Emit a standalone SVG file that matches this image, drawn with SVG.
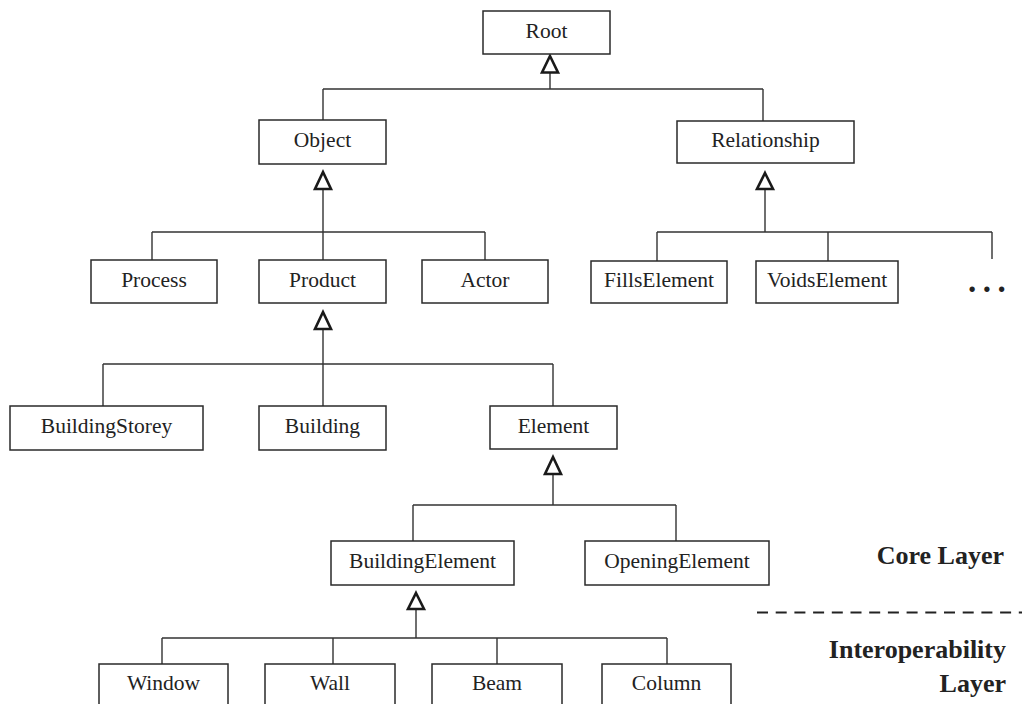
<svg xmlns="http://www.w3.org/2000/svg" width="1022" height="704" viewBox="0 0 1022 704">
<style>
.box{fill:#fff;stroke:#2a2a2a;stroke-width:1.5}
.lbl{font-family:"Liberation Serif","Times New Roman",serif;font-size:21.5px;fill:#222;text-anchor:middle}
.lay{font-family:"Liberation Serif","Times New Roman",serif;font-size:26px;font-weight:bold;fill:#222;text-anchor:end}
.ln{fill:none;stroke:#333;stroke-width:1.4}
.arr{fill:#fff;stroke:#1a1a1a;stroke-width:2.6;stroke-linejoin:miter}
</style>
<rect width="1022" height="704" fill="#fff"/>
<g id="connectors">
<path class="ln" d="M550 73V89M323 89H763M323 89V120M763 89V121"/>
<path class="ln" d="M323 190V232M152 232H485M152 232V260M323 232V260M485 232V260"/>
<path class="ln" d="M765 189V232M657 232H992M657 232V261M828 232V261M992 232V259"/>
<path class="ln" d="M323 329V364M103 364H553M103 364V406M323 364V406M553 364V406"/>
<path class="ln" d="M553 475V505M413 505H676M413 505V541M676 505V541"/>
<path class="ln" d="M416 609V638M162 638H667M162 638V664M333 638V664M497 638V664M667 638V664"/>
<polygon class="arr" points="550,56 558,72.5 542,72.5"/>
<polygon class="arr" points="323,172 331,189 315,189"/>
<polygon class="arr" points="765,173 773,189 757,189"/>
<polygon class="arr" points="323,312 331,329 315,329"/>
<polygon class="arr" points="553,457 561,474 545,474"/>
<polygon class="arr" points="416,593 424,609 408,609"/>
</g>
<g id="root"><rect class="box" x="483" y="11" width="127" height="43"/><text class="lbl" x="546.5" y="38">Root</text></g>
<g id="object"><rect class="box" x="259" y="120" width="127" height="44"/><text class="lbl" x="322.5" y="147">Object</text></g>
<g id="relationship"><rect class="box" x="677" y="121" width="177" height="42"/><text class="lbl" x="765.5" y="147">Relationship</text></g>
<g id="process"><rect class="box" x="91" y="260" width="126" height="43"/><text class="lbl" x="154" y="287">Process</text></g>
<g id="product"><rect class="box" x="259" y="260" width="127" height="43"/><text class="lbl" x="322.5" y="287">Product</text></g>
<g id="actor"><rect class="box" x="422" y="260" width="126" height="43"/><text class="lbl" x="485" y="287">Actor</text></g>
<g id="fillselement"><rect class="box" x="591" y="261" width="136" height="42"/><text class="lbl" x="659" y="287">FillsElement</text></g>
<g id="voidselement"><rect class="box" x="756" y="261" width="142" height="42"/><text class="lbl" x="827" y="287">VoidsElement</text></g>
<g id="more"><text x="968" y="292" style="font-family:'Liberation Serif','Times New Roman',serif;font-size:33px;font-weight:bold;fill:#222;letter-spacing:6.5px">...</text></g>
<g id="buildingstorey"><rect class="box" x="10" y="406" width="193" height="44"/><text class="lbl" x="106.5" y="433">BuildingStorey</text></g>
<g id="building"><rect class="box" x="259" y="406" width="127" height="44"/><text class="lbl" x="322.5" y="433">Building</text></g>
<g id="element"><rect class="box" x="490" y="406" width="127" height="43"/><text class="lbl" x="553.5" y="433">Element</text></g>
<g id="buildingelement"><rect class="box" x="331" y="541" width="183" height="44"/><text class="lbl" x="422.5" y="568">BuildingElement</text></g>
<g id="openingelement"><rect class="box" x="585" y="541" width="184" height="44"/><text class="lbl" x="677" y="568">OpeningElement</text></g>
<g id="window"><rect class="box" x="99" y="664" width="129" height="46"/><text class="lbl" x="163.5" y="690">Window</text></g>
<g id="wall"><rect class="box" x="265" y="664" width="130" height="46"/><text class="lbl" x="330" y="690">Wall</text></g>
<g id="beam"><rect class="box" x="432" y="664" width="130" height="46"/><text class="lbl" x="497" y="690">Beam</text></g>
<g id="column"><rect class="box" x="602" y="664" width="129" height="46"/><text class="lbl" x="666.5" y="690">Column</text></g>
<g id="layers">
<line x1="757" y1="612.5" x2="1022" y2="612.5" stroke="#222" stroke-width="2.2" stroke-dasharray="11 7.7"/>
<text class="lay" x="1004" y="564">Core Layer</text>
<text class="lay" x="1006" y="658">Interoperability</text>
<text class="lay" x="1006" y="692">Layer</text>
</g>
</svg>
